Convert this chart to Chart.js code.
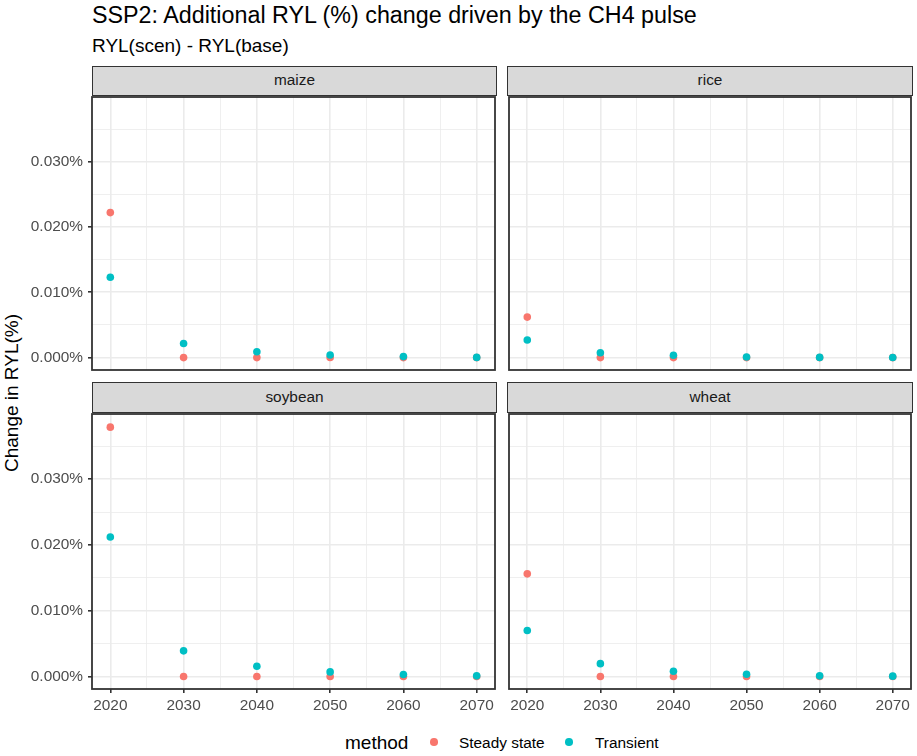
<!DOCTYPE html>
<html>
<head>
<meta charset="utf-8">
<title>SSP2 RYL change</title>
<script src="https://cdn.jsdelivr.net/npm/chart.js@4.4.1/dist/chart.umd.min.js"></script>
<style>
  body { margin: 0; background: #fff; font-family: "Liberation Sans", Arial, sans-serif; }
  #page { position: relative; width: 917px; height: 756px; overflow: hidden; background: #fff; }
  .txt { position: absolute; white-space: nowrap; line-height: 1; color: #000; }
  .strip { position: absolute; box-sizing: border-box; background: #d9d9d9; border: 1.8px solid #333;
           color: #1a1a1a; font-size: 15.4px; text-align: center; }
  .dot { position: absolute; width: 7.6px; height: 7.6px; border-radius: 50%; }
  canvas { position: absolute; }
</style>
</head>
<body>
<div id="page">
  <div class="txt" style="left:92px; top:4px; font-size:23.3px;">SSP2: Additional RYL (%) change driven by the CH4 pulse</div>
  <div class="txt" style="left:92px; top:35.6px; font-size:19px;">RYL(scen) - RYL(base)</div>
  <div class="txt" style="left:11px; top:393px; font-size:19px; transform: translate(-50%, -50%) rotate(-90deg);">Change in RYL(%)</div>

  <div class="txt" style="left:345px; top:733px; font-size:19px;">method</div>
  <div class="dot" style="left:430.2px; top:738.2px; background:#F8766D;"></div>
  <div class="txt" style="left:459px; top:735px; font-size:15.4px;">Steady state</div>
  <div class="dot" style="left:565.2px; top:738.2px; background:#00BFC4;"></div>
  <div class="txt" style="left:595px; top:735px; font-size:15.4px;">Transient</div>
</div>

<script>
// values in %
const years = [2020, 2030, 2040, 2050, 2060, 2070];

const maizeSteady      = [0.0222, 0, 0, 0.00002, 0, 0];
const maizeTransient   = [0.0123, 0.00215, 0.0009, 0.0004, 0.00015, 0.00003];
const riceSteady       = [0.0062, 0, 0, 0, 0, 0];
const riceTransient    = [0.0027, 0.00075, 0.00035, 0.0001, 0.00003, 0.00001];
const soybeanSteady    = [0.0379, 0, 0, 0, 0, 0];
const soybeanTransient = [0.0212, 0.0039, 0.00155, 0.0007, 0.0003, 0.0001];
const wheatSteady      = [0.0156, 0, 0, 0, 0, 0];
const wheatTransient   = [0.0070, 0.00195, 0.0008, 0.00035, 0.0001, 0.00005];

const yTicks = [0, 0.005, 0.01, 0.015, 0.02, 0.025, 0.03, 0.035];
const xTicks = [2020, 2025, 2030, 2035, 2040, 2045, 2050, 2055, 2060, 2065, 2070];

const STEADY = '#F8766D';
const TRANS = '#00BFC4';

// panel rectangles (plot area) and strips
const panels = [
  { name: 'maize',   x: 92,  y: 95,  w: 405, h: 277, left: true,  bottom: false, s: maizeSteady,   t: maizeTransient },
  { name: 'rice',    x: 507, y: 95,  w: 406, h: 277, left: false, bottom: false, s: riceSteady,    t: riceTransient },
  { name: 'soybean', x: 92,  y: 412, w: 405, h: 277, left: true,  bottom: true,  s: soybeanSteady, t: soybeanTransient },
  { name: 'wheat',   x: 507, y: 412, w: 406, h: 277, left: false, bottom: true,  s: wheatSteady,   t: wheatTransient }
];

const panelBorder = {
  id: 'panelBorder',
  afterDraw(chart) {
    const a = chart.chartArea, c = chart.ctx;
    c.save();
    c.strokeStyle = '#333333';
    c.lineWidth = 1.8;
    c.strokeRect(a.left, a.top, a.right - a.left, a.bottom - a.top);
    c.restore();
  }
};

const yMajor = v => Math.round(v * 1000) % 10 === 0;
const xMajor = v => v % 10 === 0;
const toPts = arr => years.map((yr, i) => ({ x: yr, y: arr[i] }));
const noPad = s => { s.paddingTop = 0; s.paddingBottom = 0; s.paddingLeft = 0; s.paddingRight = 0; };

const page = document.getElementById('page');
const pad = 2;

panels.forEach(p => {
  const yW = p.left ? 92 : 0;
  const xH = p.bottom ? 30 : 0;

  const strip = document.createElement('div');
  strip.className = 'strip';
  strip.textContent = p.name;
  const sTop = p.bottom ? 382 : 66;
  strip.style.left = p.x + 'px';
  strip.style.top = sTop + 'px';
  strip.style.width = p.w + 'px';
  strip.style.height = (p.y - sTop + 1) + 'px';
  strip.style.lineHeight = (p.y - sTop - 3) + 'px';
  page.appendChild(strip);

  const cv = document.createElement('canvas');
  const cw = pad + yW + p.w + pad;
  const ch = pad + p.h + xH + pad;
  cv.width = cw; cv.height = ch;
  cv.style.left = (p.x - yW - pad) + 'px';
  cv.style.top = (p.y - pad) + 'px';
  cv.style.width = cw + 'px';
  cv.style.height = ch + 'px';
  page.appendChild(cv);

  new Chart(cv.getContext('2d'), {
    type: 'scatter',
    data: {
      datasets: [
        { label: 'Steady state', data: toPts(p.s), backgroundColor: STEADY, borderWidth: 0, pointRadius: 3.8, order: 1 },
        { label: 'Transient', data: toPts(p.t), backgroundColor: TRANS, borderWidth: 0, pointRadius: 3.8, order: 0 }
      ]
    },
    options: {
      responsive: false,
      devicePixelRatio: 1,
      animation: false,
      events: [],
      layout: { padding: pad },
      plugins: { legend: { display: false }, tooltip: { enabled: false } },
      scales: {
        x: {
          type: 'linear',
          min: 2017.5,
          max: 2072.5,
          afterBuildTicks: s => { s.ticks = xTicks.map(v => ({ value: v })); },
          afterFit: s => { s.height = xH; noPad(s); },
          border: { display: false },
          grid: {
            color: '#ebebeb',
            lineWidth: c => xMajor(c.tick.value) ? 1.6 : 0.8,
            drawTicks: p.bottom,
            tickLength: 4,
            tickColor: c => xMajor(c.tick.value) ? '#333333' : 'rgba(0,0,0,0)',
            tickWidth: 1.6
          },
          ticks: {
            display: p.bottom,
            autoSkip: false,
            maxRotation: 0,
            padding: 4,
            color: '#4d4d4d',
            font: { family: '"Liberation Sans", Arial, sans-serif', size: 15.4 },
            callback: v => xMajor(v) ? String(v) : ''
          }
        },
        y: {
          type: 'linear',
          min: -0.0019,
          max: 0.0399,
          afterBuildTicks: s => { s.ticks = yTicks.map(v => ({ value: v })); },
          afterFit: s => { s.width = yW; noPad(s); },
          border: { display: false },
          grid: {
            color: '#ebebeb',
            lineWidth: c => yMajor(c.tick.value) ? 1.6 : 0.8,
            drawTicks: p.left,
            tickLength: 4,
            tickColor: c => yMajor(c.tick.value) ? '#333333' : 'rgba(0,0,0,0)',
            tickWidth: 1.6
          },
          ticks: {
            display: p.left,
            padding: 5,
            color: '#4d4d4d',
            font: { family: '"Liberation Sans", Arial, sans-serif', size: 15.4 },
            callback: v => yMajor(v) ? v.toFixed(3) + '%' : ''
          }
        }
      }
    },
    plugins: [panelBorder]
  });
});
</script>
</body>
</html>
